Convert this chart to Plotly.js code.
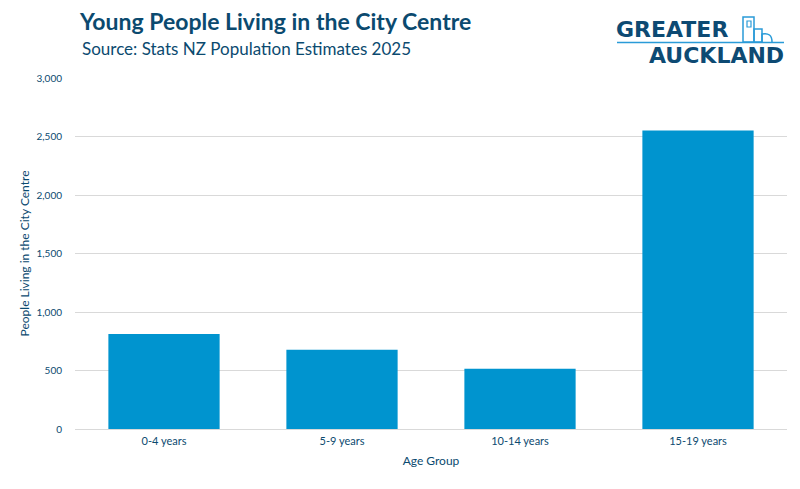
<!DOCTYPE html>
<html>
<head>
<meta charset="utf-8">
<script src="https://cdn.plot.ly/plotly-3.0.1.min.js"></script>
<style>html,body{margin:0;padding:0;background:#fff}#chart{width:800px;height:489px}</style>
</head>
<body>
<div id="chart"></div>
<script>
const categories = ["0-4 years", "5-9 years", "10-14 years", "15-19 years"];
const people = [812, 677, 515, 2552];
const yTickVals = [0, 500, 1000, 1500, 2000, 2500, 3000];
const yTickText = ["0", "500", "1,000", "1,500", "2,000", "2,500", "3,000"];

const textColor = "#0b4a6f";
const fontFam = "Lato, 'Open Sans', sans-serif";
const logoFont = "'DejaVu Sans', Lato, sans-serif";
const logoBlue = "#2a9bd8";

const data = [{
  type: "bar",
  x: categories,
  y: people,
  marker: {color: "#0094cf"},
  hoverinfo: "x+y"
}];

// px -> paper helpers
const L = 75, R = 787, T = 78, B = 429;
const px = v => (v - L) / (R - L);
const py = v => (B - v) / (B - T);

const layout = {
  width: 800, height: 489,
  margin: {l: L, r: 800 - R, t: T, b: 489 - B},
  paper_bgcolor: "#fff", plot_bgcolor: "#fff",
  font: {family: fontFam, color: textColor},
  showlegend: false,
  bargap: 0.375,
  title: {
    text: "<b>Young People Living in the City Centre</b>",
    x: 80 / 800, xref: "container", xanchor: "left",
    y: 1 - 22 / 489, yref: "container", yanchor: "middle",
    font: {family: fontFam, size: 23, color: textColor}
  },
  xaxis: {
    type: "category",
    tickfont: {size: 11, color: textColor},
    showgrid: false, zeroline: false, showline: false,
    ticks: "", ticklabelstandoff: 4,
    title: {text: "Age Group", font: {size: 12, color: textColor}, standoff: 10}
  },
  yaxis: {
    range: [0, 3000],
    tickvals: yTickVals, ticktext: yTickText,
    tickfont: {size: 10, color: textColor},
    showgrid: true, gridcolor: "#d9d9d9", gridwidth: 1,
    zeroline: true, zerolinecolor: "#d9d9d9", zerolinewidth: 1,
    showline: false, ticks: "", ticklabelstandoff: 12,
    title: {text: "People Living in the City Centre", font: {size: 12, color: textColor}, standoff: 4}
  },
  annotations: [
    {text: "Source: Stats NZ Population Estimates 2025", xref: "paper", yref: "paper",
     x: px(80), y: py(48), xanchor: "left", yanchor: "middle", showarrow: false,
     font: {family: fontFam, size: 17, color: textColor}},
    {text: "<b>GREATER</b>", xref: "paper", yref: "paper",
     x: px(615), y: py(29.5), xanchor: "left", yanchor: "middle", showarrow: false, borderpad: 0,
     font: {family: logoFont, size: 22, color: "#0d4a73"}},
    {text: "<b>AUCKLAND</b>", xref: "paper", yref: "paper",
     x: px(785), y: py(55.5), xanchor: "right", yanchor: "middle", showarrow: false, borderpad: 0,
     font: {family: logoFont, size: 22, color: "#0d4a73"}}
  ],
  shapes: [
    {type: "line", xref: "paper", yref: "paper", x0: px(617), x1: px(784), y0: py(42.5), y1: py(42.5),
     line: {color: logoBlue, width: 1.5}},
    {type: "rect", xref: "paper", yref: "paper", x0: px(743), x1: px(754), y0: py(42), y1: py(17),
     line: {color: logoBlue, width: 1.5}},
    {type: "rect", xref: "paper", yref: "paper", x0: px(747), x1: px(751), y0: py(27), y1: py(21),
     line: {color: logoBlue, width: 1.2}},
    {type: "rect", xref: "paper", yref: "paper", x0: px(754), x1: px(762), y0: py(42), y1: py(29),
     line: {color: logoBlue, width: 1.5}},
    {type: "path", xref: "paper", yref: "paper",
     path: "M " + px(762) + " " + py(42) + " L " + px(762) + " " + py(34) + " Q " + px(772) + " " + py(32) + " " + px(772) + " " + py(42),
     line: {color: logoBlue, width: 1.5}}
  ]
};

Plotly.newPlot("chart", data, layout, {displayModeBar: false});
</script>
</body>
</html>
